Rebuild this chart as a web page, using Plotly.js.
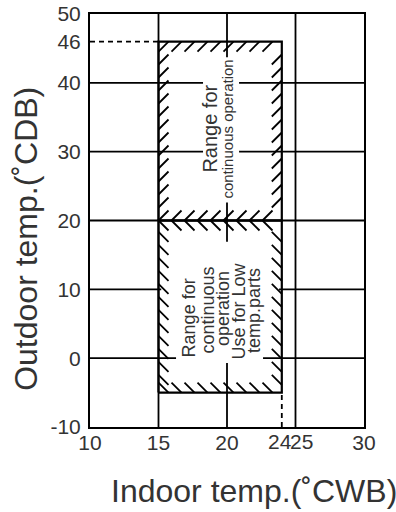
<!DOCTYPE html>
<html><head><meta charset="utf-8">
<script src="https://cdn.plot.ly/plotly-3.0.1.min.js"></script>
<style>html,body{margin:0;padding:0;background:#fff}#chart{width:396px;height:512px}</style>
</head><body><div id="chart"></div>
<script>
// ---- data ----
const xRange = [10, 30];
const yRange = [-10, 50];
const xTickVals = [10, 15, 20, 30];
const xTickText = ['10', '15', '20', '30'];
const xSideTickVals = [24, 25];
const xSideTickText = ['24', '25'];
const yTickVals = [50, 46, 40, 30, 20, 10, 0, -10];
const yTickText = ['50', '46', '40', '30', '20', '10', '0', '-10'];
const gridX = [15, 20, 25];
const gridY = [0, 10, 20, 30, 40];
const indoorRange = [15, 24];
const upperOutdoor = [20, 46];
const lowerOutdoor = [-5, 20];
const upperText = ['Range for', 'continuous operation'];
const lowerText = ['Range for', 'continuous', 'operation', 'Use for Low', 'temp.parts'];

// ---- layout helpers ----
const W = 396, H = 512;
const M = {l: 90, r: 32, t: 14, b: 85, pad: 0};
const pw = W - M.l - M.r, ph = H - M.t - M.b;
const kx = pw / (xRange[1] - xRange[0]), ky = ph / (yRange[1] - yRange[0]);
const px2x = p => p / kx, px2y = p => p / ky;
const FONT = 'Liberation Sans, Arial, sans-serif';
const TXT = '#333';

// hatch strokes
const d = 10, sp = 13;
const dx = px2x(d), dy = px2y(d), sx = px2x(sp), sy = px2y(sp);
const hx = [], hy = [];
function seg(x0, y0, x1, y1) { hx.push(x0, x1, null); hy.push(y0, y1, null); }
const [xa, xb] = indoorRange;
const [ua, ub] = upperOutdoor;
const [la, lb] = lowerOutdoor;
for (let x = xa; x + dx <= xb + 1e-9; x += sx) seg(x, ub - dy, x + dx, ub);
for (let x = xa; x + dx <= xb + 1e-9; x += sx) seg(x, ua, x + dx, ua + dy);
for (let y = ua + sy; y + dy <= ub - dy * 0.5; y += sy) { seg(xa, y, xa + dx, y + dy); seg(xb - dx, y, xb, y + dy); }
for (let x = xa; x + dx <= xb + 1e-9; x += sx) seg(x, lb, x + dx, lb - dy);
for (let x = xa; x + dx <= xb + 1e-9; x += sx) seg(x, la + dy, x + dx, la);
for (let y = la + sy * 0.6; y + dy <= lb - dy * 0.8; y += sy) { seg(xa, y + dy, xa + dx, y); seg(xb - dx, y + dy, xb, y); }

const traces = [
  {x: hx, y: hy, mode: 'lines', line: {color: '#000', width: 1.8}, hoverinfo: 'skip', showlegend: false},
  {x: [xa, xb, xb, xa, xa], y: [ua, ua, ub, ub, ua], mode: 'lines', line: {color: '#000', width: 2.2}, hoverinfo: 'skip', showlegend: false},
  {x: [xa, xb, xb, xa, xa], y: [la, la, lb, lb, la], mode: 'lines', line: {color: '#000', width: 2.2}, hoverinfo: 'skip', showlegend: false},
  {x: [xRange[0], xa], y: [ub, ub], mode: 'lines', line: {color: '#000', width: 1.8, dash: '5px,4px'}, hoverinfo: 'skip', showlegend: false},
  {x: [xb, xb], y: [yRange[0], la], mode: 'lines', line: {color: '#000', width: 1.8, dash: '5px,4px'}, hoverinfo: 'skip', showlegend: false}
];

const shapes = [];
gridX.forEach(v => shapes.push({type: 'line', layer: 'below', x0: v, x1: v, y0: yRange[0], y1: yRange[1], line: {color: '#000', width: 1.8}}));
gridY.forEach(v => shapes.push({type: 'line', layer: 'below', x0: xRange[0], x1: xRange[1], y0: v, y1: v, line: {color: '#000', width: 1.8}}));
// white backgrounds behind the texts
[[18.25, 20.88, 22.6, 43.7], [16.28, 22.63, -0.7, 16.9], [15.2, 23.8, 5, 15]].forEach(r =>
  shapes.push({type: 'rect', layer: 'below', x0: r[0], x1: r[1], y0: r[2], y1: r[3], fillcolor: '#fff', line: {width: 0}}));

const annotations = [];
const upPos = [[18.76, 33.35, 20], [20.07, 33.35, 15]];
upperText.forEach((t, i) => annotations.push({text: t, x: upPos[i][0], y: upPos[i][1], xref: 'x', yref: 'y', textangle: -90, showarrow: false, font: {family: FONT, size: upPos[i][2], color: TXT}}));
const lowPos = [[17.19, 5.85], [18.58, 7.0], [19.67, 7.2], [20.88, 6.8], [21.97, 7.0]];
lowerText.forEach((t, i) => annotations.push({text: t, x: lowPos[i][0], y: lowPos[i][1], xref: 'x', yref: 'y', textangle: -90, showarrow: false, font: {family: FONT, size: 18, color: TXT}}));
// side tick labels 24 / 25
annotations.push({text: xSideTickText[0], x: 24.8, xanchor: 'right', y: -0.035, yref: 'paper', yanchor: 'middle', borderpad: 0, showarrow: false, font: {family: FONT, size: 21, color: TXT}});
annotations.push({text: xSideTickText[1], x: 24.55, xanchor: 'left', y: -0.035, yref: 'paper', yanchor: 'middle', borderpad: 0, showarrow: false, font: {family: FONT, size: 21, color: TXT}});
// axis titles
annotations.push({text: 'Indoor temp.(˚CWB)', xref: 'paper', yref: 'paper', x: 0.597, y: -0.155, xanchor: 'center', yanchor: 'middle', showarrow: false, font: {family: FONT, size: 32, color: TXT}});
annotations.push({text: 'Outdoor temp.(˚CDB)', xref: 'paper', yref: 'paper', x: -0.233, y: 0.456, xanchor: 'center', yanchor: 'middle', textangle: -90, showarrow: false, font: {family: FONT, size: 32, color: TXT}});

const axisCommon = {showgrid: false, zeroline: false, showline: true, mirror: true, linecolor: '#000', linewidth: 2, ticks: '', tickfont: {family: FONT, size: 21, color: TXT}, fixedrange: true};
const layout = {
  width: W, height: H, margin: M, paper_bgcolor: '#fff', plot_bgcolor: '#fff', showlegend: false,
  xaxis: Object.assign({}, axisCommon, {range: xRange, tickmode: 'array', tickvals: xTickVals, ticktext: xTickText, ticklabelstandoff: -4}),
  yaxis: Object.assign({}, axisCommon, {range: yRange, tickmode: 'array', tickvals: yTickVals, ticktext: yTickText, ticklabelstandoff: 3}),
  shapes: shapes, annotations: annotations
};
Plotly.newPlot('chart', traces, layout, {staticPlot: true, displayModeBar: false});
</script></body></html>
